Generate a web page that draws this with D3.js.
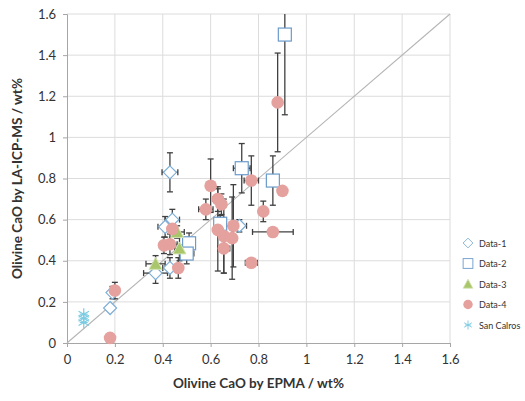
<!DOCTYPE html>
<html>
<head>
<meta charset="utf-8">
<script src="https://cdn.jsdelivr.net/npm/d3@7"></script>
<style>
  body { margin: 0; background: #fff; }
  svg text { font-family: Lato, "Open Sans", sans-serif; }
</style>
</head>
<body>
<div id="chart"></div>
<script>
// axis ticks
const xTicks = [0, 0.2, 0.4, 0.6, 0.8, 1, 1.2, 1.4, 1.6]
const yTicks = [0, 0.2, 0.4, 0.6, 0.8, 1, 1.2, 1.4, 1.6]

// Data-1 (diamonds)
const d1x = [0.43, 0.44, 0.41, 0.37, 0.43, 0.18, 0.19, 0.72]
const d1y = [0.83, 0.60, 0.565, 0.34, 0.365, 0.17, 0.245, 0.57]
const d1xe = [0.033, 0.03, 0.03, 0.05, 0.03, 0, 0, 0.03]
const d1ye = [0.095, 0.05, 0.05, 0.05, 0.05, 0, 0.03, 0.03]

// Data-2 (squares)
const d2x = [0.91, 0.73, 0.86, 0.64, 0.51, 0.50]
const d2y = [1.50, 0.85, 0.79, 0.58, 0.485, 0.435]
const d2xe = [0, 0.035, 0.01, 0.02, 0.02, 0.03]
const d2ye = [0.39, 0.12, 0.12, 0.04, 0.05, 0.05]

// Data-3 (triangles)
const d3x = [0.46, 0.47, 0.37]
const d3y = [0.54, 0.46, 0.385]
const d3xe = [0.03, 0.02, 0.04]
const d3ye = [0.03, 0.06, 0.04]

// Data-4 (circles)
const d4x = [0.88, 0.90, 0.82, 0.86, 0.77, 0.77, 0.60, 0.63, 0.645, 0.58, 0.63, 0.655, 0.69, 0.695, 0.655, 0.44, 0.405, 0.43, 0.465, 0.20, 0.18]
const d4y = [1.17, 0.74, 0.64, 0.54, 0.39, 0.79, 0.765, 0.70, 0.675, 0.65, 0.55, 0.52, 0.51, 0.57, 0.46, 0.555, 0.475, 0.48, 0.365, 0.255, 0.025]
const d4xe = [0, 0, 0, 0.085, 0.025, 0.03, 0, 0.02, 0.02, 0.03, 0, 0, 0, 0.03, 0.025, 0, 0, 0.03, 0, 0, 0]
const d4ye = [0.24, 0, 0.05, 0, 0, 0.12, 0.13, 0.06, 0.05, 0.05, 0.2, 0.18, 0.2, 0.2, 0.12, 0.04, 0.04, 0.05, 0.05, 0.04, 0.01]

// San Calros (asterisks)
const scx = [0.07, 0.07, 0.07]
const scy = [0.14, 0.12, 0.10]

const width = 525, height = 401
const margin = { top: 14, right: 75, bottom: 58, left: 67 }
const innerW = width - margin.left - margin.right
const innerH = height - margin.top - margin.bottom

const svg = d3.select("#chart").append("svg")
  .attr("width", width)
  .attr("height", height)

const g = svg.append("g")
  .attr("transform", `translate(${margin.left},${margin.top})`)

const x = d3.scaleLinear().domain([0, 1.6]).range([0, innerW])
const y = d3.scaleLinear().domain([0, 1.6]).range([innerH, 0])

// gridlines
g.append("g").selectAll("line").data(xTicks.slice(1)).join("line")
  .attr("x1", d => x(d)).attr("x2", d => x(d))
  .attr("y1", 0).attr("y2", innerH)
  .attr("stroke", "#dcdcdc").attr("stroke-width", 1)
g.append("g").selectAll("line").data(yTicks.slice(1)).join("line")
  .attr("x1", 0).attr("x2", innerW)
  .attr("y1", d => y(d)).attr("y2", d => y(d))
  .attr("stroke", "#dcdcdc").attr("stroke-width", 1)

// axes
const xAxis = g.append("g")
  .attr("transform", `translate(0,${innerH})`)
  .call(d3.axisBottom(x).tickValues(xTicks).tickFormat(d3.format("~g")).tickSize(4))
const yAxis = g.append("g")
  .call(d3.axisLeft(y).tickValues(yTicks).tickFormat(d3.format("~g")).tickSize(4))
;[xAxis, yAxis].forEach(a => {
  a.select(".domain").attr("stroke", "#a6a6a6")
  a.selectAll(".tick line").attr("stroke", "#a6a6a6")
  a.selectAll(".tick text").attr("fill", "#333").style("font-size", "13px")
})
xAxis.selectAll(".tick text").attr("dy", "1.1em")
yAxis.selectAll(".tick text").attr("dx", "-0.3em")

// 1:1 line
g.append("line")
  .attr("x1", x(0)).attr("y1", y(0))
  .attr("x2", x(1.6)).attr("y2", y(1.6))
  .attr("stroke", "#b5b5b5").attr("stroke-width", 1.1)

const plot = g.append("g")
svg.append("clipPath").attr("id", "clip").append("rect")
  .attr("x", 0).attr("y", 0).attr("width", innerW).attr("height", innerH)

function zip(xs, ys, xe, ye) {
  return xs.map((v, i) => ({ x: v, y: ys[i], xe: xe ? xe[i] : 0, ye: ye ? ye[i] : 0 }))
}

const series = [
  { name: "Data-1", data: zip(d1x, d1y, d1xe, d1ye), shape: "diamond" },
  { name: "Data-2", data: zip(d2x, d2y, d2xe, d2ye), shape: "square" },
  { name: "Data-3", data: zip(d3x, d3y, d3xe, d3ye), shape: "triangle" },
  { name: "Data-4", data: zip(d4x, d4y, d4xe, d4ye), shape: "circle" },
  { name: "San Calros", data: zip(scx, scy), shape: "star" }
]

// error bars
const errG = plot.append("g").attr("clip-path", "url(#clip)")
  .attr("stroke", "#404040").attr("stroke-width", 1.3)
const cap = 3
series.forEach(s => {
  s.data.forEach(d => {
    if (d.ye > 0) {
      const y1 = y(d.y + d.ye), y2 = y(d.y - d.ye)
      errG.append("line").attr("x1", x(d.x)).attr("x2", x(d.x)).attr("y1", y1).attr("y2", y2)
      errG.append("line").attr("x1", x(d.x) - cap).attr("x2", x(d.x) + cap).attr("y1", y1).attr("y2", y1)
      errG.append("line").attr("x1", x(d.x) - cap).attr("x2", x(d.x) + cap).attr("y1", y2).attr("y2", y2)
    }
    if (d.xe > 0) {
      const x1 = x(d.x - d.xe), x2 = x(d.x + d.xe)
      errG.append("line").attr("x1", x1).attr("x2", x2).attr("y1", y(d.y)).attr("y2", y(d.y))
      errG.append("line").attr("x1", x1).attr("x2", x1).attr("y1", y(d.y) - cap).attr("y2", y(d.y) + cap)
      errG.append("line").attr("x1", x2).attr("x2", x2).attr("y1", y(d.y) - cap).attr("y2", y(d.y) + cap)
    }
  })
})

// marker drawing
function drawMarker(sel, shape) {
  if (shape === "diamond") {
    sel.append("path").attr("d", "M0,-6.5L6.5,0L0,6.5L-6.5,0Z")
      .attr("fill", "#fff").attr("stroke", "#7eaed6").attr("stroke-width", 1.2)
  } else if (shape === "square") {
    sel.append("rect").attr("x", -6.5).attr("y", -6.5).attr("width", 13).attr("height", 13)
      .attr("fill", "#fff").attr("stroke", "#6b9bcb").attr("stroke-width", 1.2)
  } else if (shape === "triangle") {
    sel.append("path").attr("d", "M0,-6.5L6.5,5.5L-6.5,5.5Z")
      .attr("fill", "#a9c66b").attr("stroke", "#d4e3b0").attr("stroke-width", 1)
  } else if (shape === "circle") {
    sel.append("circle").attr("r", 6.3).attr("fill", "#e5a19e")
  } else if (shape === "star") {
    const r = 6
    ;[0, 60, 120].forEach(a => {
      const rad = a * Math.PI / 180
      sel.append("line")
        .attr("x1", -r * Math.sin(rad)).attr("y1", -r * Math.cos(rad))
        .attr("x2", r * Math.sin(rad)).attr("y2", r * Math.cos(rad))
        .attr("stroke", "#7ccbe2").attr("stroke-width", 1.2)
    })
    sel.append("line").attr("x1", -4).attr("x2", 4).attr("y1", 0).attr("y2", 0)
      .attr("stroke", "#7ccbe2").attr("stroke-width", 1.2)
  }
}

series.forEach(s => {
  plot.append("g").selectAll("g").data(s.data).join("g")
    .attr("transform", d => `translate(${x(d.x)},${y(d.y)})`)
    .each(function () { drawMarker(d3.select(this), s.shape) })
})

// legend
const legend = svg.append("g").attr("transform", "translate(468,243)")
series.forEach((s, i) => {
  const row = legend.append("g").attr("transform", `translate(0,${i * 20.5})`)
  const m = row.append("g").attr("transform", "scale(0.75)")
  drawMarker(m, s.shape)
  row.append("text").attr("x", 11).attr("y", 3.5)
    .style("font-size", "9px").attr("fill", "#333").text(s.name)
})

// axis titles
svg.append("text")
  .attr("x", margin.left + innerW / 2).attr("y", 388)
  .attr("text-anchor", "middle")
  .style("font-size", "13.5px").style("font-weight", "bold").attr("fill", "#333")
  .text("Olivine CaO by EPMA / wt%")

svg.append("text")
  .attr("transform", `translate(22,${margin.top + innerH / 2}) rotate(-90)`)
  .attr("text-anchor", "middle")
  .style("font-size", "13.5px").style("font-weight", "bold").attr("fill", "#333")
  .text("Olivine CaO by LA-ICP-MS / wt%")
</script>
</body>
</html>
